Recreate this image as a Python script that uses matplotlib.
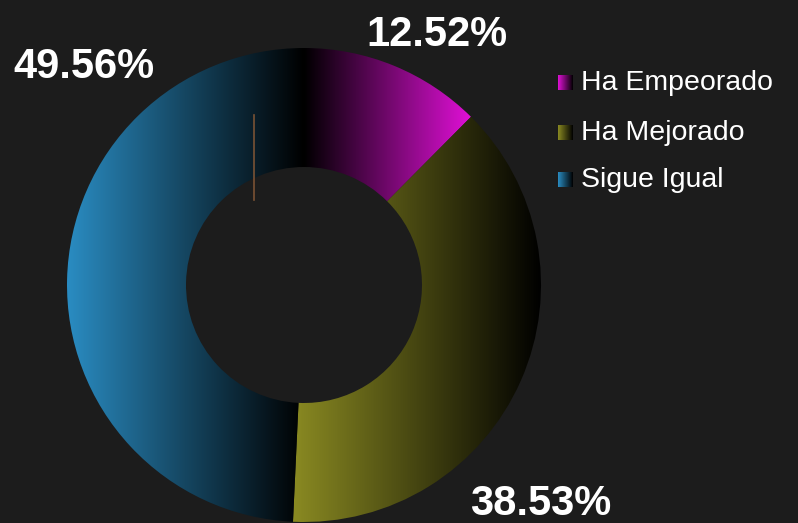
import numpy as np
import matplotlib
matplotlib.use("Agg")
import matplotlib.pyplot as plt
from matplotlib.colors import to_rgb

# data
labels = ["Ha Empeorado", "Ha Mejorado", "Sigue Igual"]
values = [12.52, 38.53, 49.56]
colors = ["#e010d6", "#8a8a22", "#2a8cc2"]
# which side of each wedge is bright (True = bright on the right)
bright_right = [True, False, False]

bg = "#1c1c1c"
W, H = 798, 523
plt.rcParams['font.family'] = ['Liberation Sans', 'DejaVu Sans']

fig = plt.figure(figsize=(W / 100, H / 100), dpi=100, facecolor=bg)
ax = fig.add_axes([0, 0, 1, 1])
ax.set_facecolor(bg)

cx, cy, R = 304, H - 285, 237
wedges, _ = ax.pie(values, startangle=90, counterclock=False, center=(cx, cy),
                   radius=R, wedgeprops=dict(width=119, linewidth=0),
                   frame=True)
ax.set_xlim(0, W)
ax.set_ylim(0, H)
ax.set_aspect('equal')
ax.axis('off')


def gradient(col, right):
    r, g, b = to_rgb(col)
    t = np.linspace(0, 1, 256)
    if not right:
        t = t[::-1]
    img = np.zeros((1, 256, 3))
    img[0, :, 0] = r * t
    img[0, :, 1] = g * t
    img[0, :, 2] = b * t
    return img


for w, col, br in zip(wedges, colors, bright_right):
    w.set_facecolor("none")
    ext = w.get_path().get_extents()
    im = ax.imshow(gradient(col, br), extent=(ext.x0, ext.x1, ext.y0, ext.y1),
                   aspect='auto', interpolation='bilinear', zorder=2)
    im.set_clip_path(w)

# percentage labels
lab_pos = [(437, 35), (541, 504), (84, 67)]
for v, (x, y) in zip(values, lab_pos):
    ax.text(x, H - y, f"{v:.2f}%", color="white", fontsize=30,
            fontweight='bold', ha='center', va='center', zorder=5)

# thin brown line
ax.plot([254, 254], [H - 115, H - 200], color="#7a5234", lw=1.2, zorder=4)

# legend
rows = [82.5, 132.5, 180]
for lab, col, y in zip(labels, colors, rows):
    ax.imshow(gradient(col, False), extent=(558, 573, H - y - 7.5, H - y + 7.5),
              aspect='auto', interpolation='bilinear', zorder=3)
    ax.text(581, H - y, lab, color="white", fontsize=20.5, ha='left',
            va='center', zorder=5)

ax.set_xlim(0, W)
ax.set_ylim(0, H)
fig.savefig("out.png", dpi=100, facecolor=bg)
